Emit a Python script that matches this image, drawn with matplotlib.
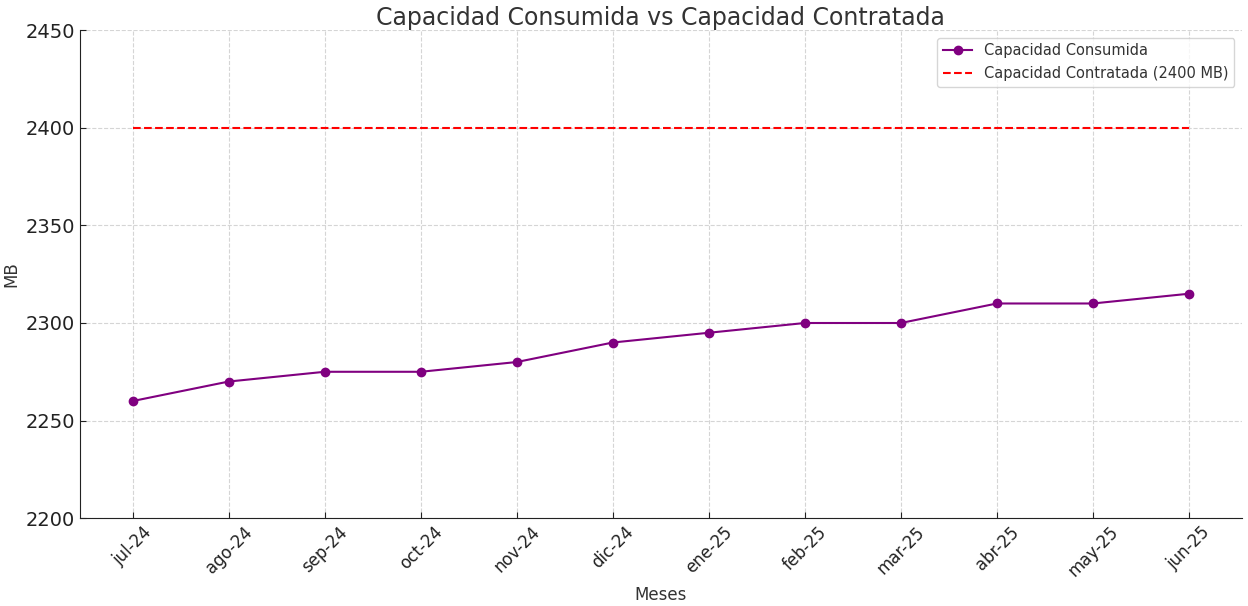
import matplotlib.pyplot as plt

# Monthly data
meses = ["jul-24", "ago-24", "sep-24", "oct-24", "nov-24", "dic-24",
         "ene-25", "feb-25", "mar-25", "abr-25", "may-25", "jun-25"]
consumida = [2260, 2270, 2275, 2275, 2280, 2290, 2295, 2300, 2300, 2310, 2310, 2315]
contratada = 2400

plt.rcParams['font.family'] = ['DejaVu Sans']
plt.rcParams['text.color'] = '#333333'
plt.rcParams['axes.labelcolor'] = '#333333'

fig, ax = plt.subplots(figsize=(12.48, 6.06), dpi=100)
ax.plot(meses, consumida, marker='o', color='purple', label="Capacidad Consumida")
ax.plot(meses, [contratada] * len(meses), linestyle='--', color='red',
        label="Capacidad Contratada (2400 MB)")

ax.set_ylim(2200, 2450)
ax.set_title("Capacidad Consumida vs Capacidad Contratada", fontsize=17, pad=4)
ax.set_xlabel("Meses", fontsize=12)
ax.set_ylabel("MB", fontsize=12)
ax.tick_params(direction='in', length=4, colors='#222222')
ax.tick_params(axis='x', labelrotation=45, labelsize=12)
ax.tick_params(axis='y', labelsize=14)
ax.grid(True, linestyle='--', color='#d5d5d5', linewidth=0.8)
for side in ['left', 'bottom']:
    ax.spines[side].set_color('#222222')
ax.spines['top'].set_visible(False)
ax.spines['right'].set_visible(False)
ax.legend(loc='upper right', fontsize=10.5)

fig.subplots_adjust(left=0.064, right=0.995, top=0.95, bottom=0.145)
fig.savefig("out.png", dpi=100)
